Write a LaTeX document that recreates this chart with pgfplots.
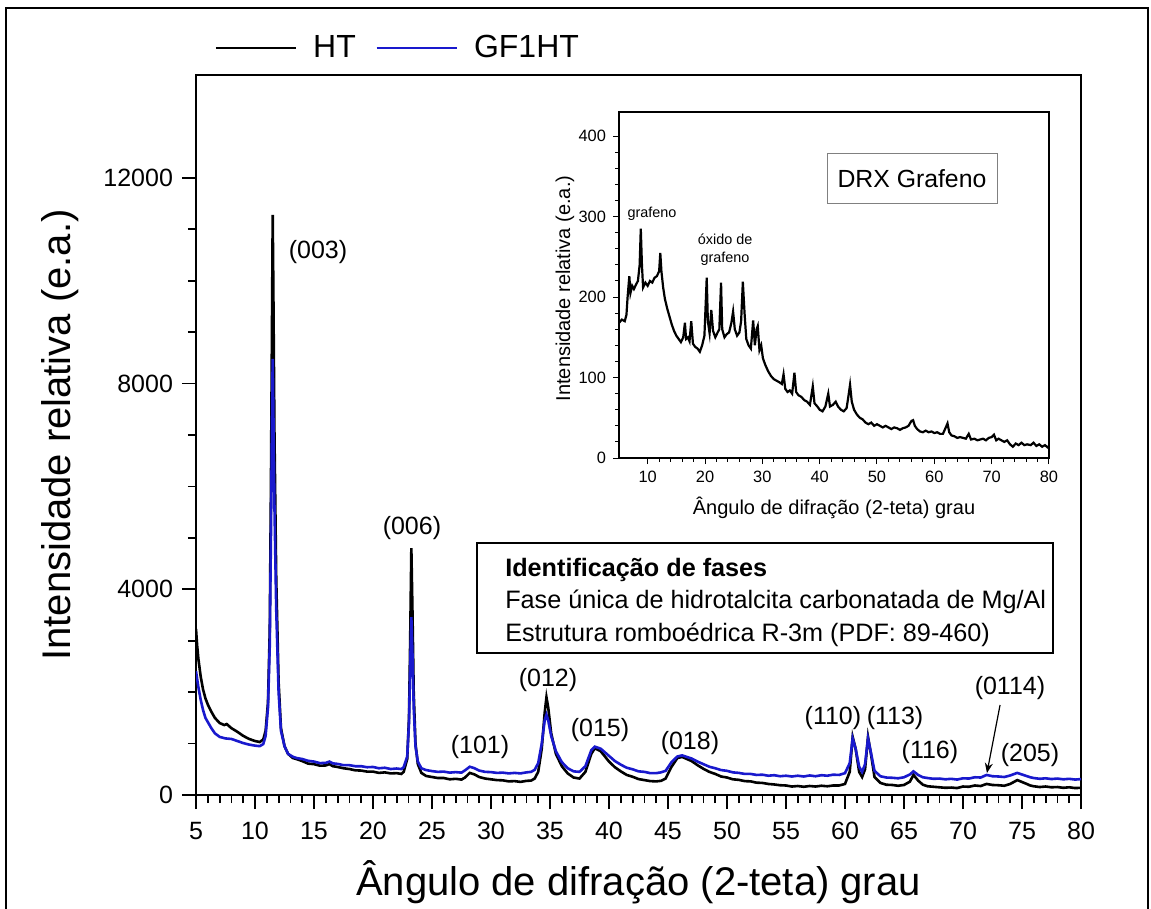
\documentclass[border=0pt]{standalone}
\usepackage{pgfplots}
\pgfplotsset{compat=1.18}
\usepackage{fontspec}
\setmainfont{Liberation Sans}
\usetikzlibrary{arrows.meta}
\definecolor{gfblue}{RGB}{25,25,205}

\pgfplotstableread{
x y
5.0 3230
5.1 2900
5.2 2650
5.4 2300
5.6 2050
5.8 1880
6.0 1760
6.3 1620
6.6 1500
7.0 1400
7.4 1360
7.6 1380
8.0 1300
8.5 1230
9.0 1150
9.5 1090
10.0 1050
10.4 1030
10.7 1080
10.9 1250
11.1 1800
11.25 3200
11.35 6000
11.45 9500
11.5 11280
11.55 10000
11.65 7000
11.8 4200
12.0 2200
12.2 1300
12.5 950
12.8 800
13.2 720
13.5 700
14.0 660
14.5 610
15.0 600
15.5 570
16.0 575
16.3 600
16.6 560
17.0 545
17.5 520
18.0 505
18.5 480
19.0 475
19.5 455
20.0 455
20.5 430
21.0 440
21.5 420
22.0 425
22.4 410
22.6 450
22.9 700
23.05 1500
23.15 3000
23.25 4800
23.35 3500
23.45 2000
23.6 1000
23.8 600
24.1 430
24.5 370
25.0 350
25.5 330
26.0 330
26.5 305
27.0 315
27.5 300
27.8 340
28.2 430
28.6 400
29.0 350
29.5 320
30.0 305
30.5 290
31.0 285
31.5 265
32.0 270
32.5 255
33.0 275
33.4 280
33.7 320
34.0 450
34.3 900
34.55 1600
34.7 1900
34.85 1700
35.1 1200
35.5 800
36.0 560
36.5 420
37.0 340
37.5 320
38.0 450
38.5 800
38.8 910
39.3 850
40.0 650
40.5 540
41.0 460
41.5 390
42.0 355
42.5 310
43.0 290
43.5 270
44.0 265
44.4 275
44.8 320
45.3 550
45.8 720
46.2 740
46.6 700
47.0 660
47.5 580
48.0 510
48.5 450
49.0 410
49.5 360
50.0 340
50.5 305
51.0 295
51.5 270
52.0 265
52.5 240
53.0 235
53.5 215
54.0 205
54.5 190
55.0 185
55.5 165
56.0 175
56.5 160
57.0 175
57.5 165
58.0 180
58.5 170
59.0 185
59.5 185
60.0 215
60.4 450
60.65 1130
60.9 900
61.2 450
61.45 350
61.7 500
61.95 1130
62.2 800
62.5 350
63.0 235
63.5 200
64.0 195
64.5 180
65.0 195
65.5 260
65.8 390
66.2 280
66.6 200
67.0 170
67.5 160
68.0 150
68.5 140
69.0 145
69.5 135
70.0 165
70.5 160
71.0 185
71.5 175
72.0 215
72.5 195
73.0 190
73.5 180
74.0 215
74.6 290
75.3 225
75.7 185
76.0 170
76.5 155
77.0 165
77.5 150
78.0 155
78.5 140
79.0 150
79.5 135
80.0 140
}\dataHT

\pgfplotstableread{
x y
5.0 2410
5.2 2100
5.4 1850
5.6 1650
5.8 1500
6.0 1420
6.3 1300
6.6 1200
7.0 1130
7.5 1100
8.0 1090
8.5 1050
9.0 1010
9.5 980
10.0 960
10.4 950
10.7 990
10.9 1150
11.1 1700
11.25 2900
11.35 5000
11.45 7500
11.5 8480
11.55 7600
11.65 5600
11.8 3600
12.0 2000
12.2 1250
12.5 950
12.8 800
13.2 745
13.5 720
14.0 700
14.5 665
15.0 650
15.5 620
16.0 625
16.3 650
16.6 615
17.0 605
17.5 580
18.0 580
18.5 560
19.0 560
19.5 540
20.0 545
20.5 520
21.0 530
21.5 505
22.0 515
22.4 505
22.6 540
22.9 750
23.05 1400
23.15 2500
23.25 3460
23.35 2700
23.45 1700
23.6 950
23.8 650
24.1 520
24.5 485
25.0 465
25.5 450
26.0 455
26.5 435
27.0 445
27.5 435
27.8 480
28.2 550
28.6 520
29.0 475
29.5 450
30.0 445
30.5 430
31.0 435
31.5 420
32.0 430
32.5 420
33.0 440
33.4 450
33.7 490
34.0 620
34.3 1000
34.55 1450
34.7 1560
34.85 1450
35.1 1150
35.5 850
36.0 640
36.5 520
37.0 460
37.5 450
38.0 560
38.5 870
38.8 940
39.3 900
40.0 760
40.5 660
41.0 590
41.5 530
42.0 500
42.5 460
43.0 450
43.5 425
44.0 425
44.4 440
44.8 470
45.3 640
45.8 750
46.2 770
46.6 740
47.0 710
47.5 650
48.0 600
48.5 550
49.0 520
49.5 485
50.0 470
50.5 440
51.0 430
51.5 410
52.0 410
52.5 390
53.0 395
53.5 375
54.0 385
54.5 365
55.0 375
55.5 360
56.0 375
56.5 360
57.0 380
57.5 365
58.0 385
58.5 375
59.0 395
59.5 390
60.0 425
60.4 620
60.65 1100
60.9 900
61.2 550
61.45 450
61.7 600
61.95 1100
62.2 820
62.5 470
63.0 365
63.5 340
64.0 335
64.5 325
65.0 345
65.5 400
65.8 460
66.2 390
66.6 345
67.0 330
67.5 315
68.0 320
68.5 305
69.0 315
69.5 300
70.0 325
70.5 320
71.0 345
71.5 340
72.0 390
72.5 365
73.0 360
73.5 350
74.0 380
74.6 430
75.3 375
75.7 345
76.0 330
76.5 315
77.0 325
77.5 310
78.0 320
78.5 305
79.0 315
79.5 300
80.0 310
}\dataGF

\pgfplotstableread{
x y
5.0 168
5.5 172
6.0 170
6.3 178
6.5 200
6.8 226
7.0 205
7.3 214
7.6 210
8.0 216
8.3 220
8.6 240
8.8 285
9.0 240
9.2 212
9.6 218
10.0 214
10.4 220
10.8 218
11.2 224
11.6 226
12.0 232
12.2 255
12.4 232
12.7 212
13.0 198
13.4 186
13.8 176
14.2 166
14.6 158
15.0 152
15.4 148
15.8 144
16.2 150
16.5 168
16.7 148
17.0 150
17.3 145
17.6 170
17.9 142
18.3 138
18.7 136
19.1 132
19.5 140
19.9 152
20.3 224
20.5 170
20.8 155
21.1 184
21.4 158
21.8 150
22.2 156
22.5 160
22.8 218
23.0 160
23.4 150
23.8 154
24.2 156
24.6 168
24.9 182
25.2 160
25.6 152
26.0 156
26.3 170
26.6 219
26.9 180
27.2 148
27.6 140
28.0 136
28.4 171
28.7 140
29.0 160
29.2 164
29.5 134
29.8 140
30.1 124
30.5 116
31.0 108
31.5 102
32.0 98
32.5 96
33.0 94
33.4 92
33.7 104
34.0 86
34.4 82
34.8 84
35.2 80
35.6 106
35.9 82
36.3 78
36.8 76
37.3 72
37.8 70
38.3 66
38.8 89
39.1 68
39.6 64
40.0 60
40.5 58
41.0 64
41.5 80
41.8 64
42.3 66
42.8 70
43.2 64
43.7 60
44.2 58
44.7 62
45.0 76
45.3 91
45.6 70
46.0 60
46.5 54
47.0 50
47.5 48
48.0 44
48.5 42
49.0 44
49.5 40
50.0 42
50.5 40
51.0 38
51.5 40
52.0 38
52.5 36
53.0 38
53.5 37
54.0 35
54.5 37
55.0 38
55.5 40
56.0 46
56.3 47
56.6 40
57.0 36
57.5 33
58.0 32
58.5 34
59.0 32
59.5 33
60.0 31
60.5 32
61.0 30
61.5 30
62.0 38
62.3 43
62.6 32
63.0 28
63.5 27
64.0 25
64.5 26
65.0 25
65.5 24
66.0 30
66.4 23
67.0 24
67.5 22
68.0 23
68.5 24
69.0 22
69.5 25
70.0 26
70.4 29
70.8 22
71.2 24
71.7 22
72.2 20
72.7 22
73.2 17
73.7 14
74.2 18
74.7 16
75.2 19
75.7 16
76.2 17
76.8 16
77.3 19
77.8 15
78.3 17
78.8 14
79.3 16
79.8 13
80.0 15
}\dataGR

\begin{document}
\begin{tikzpicture}
\path[use as bounding box] (0,0) rectangle (575.5pt,-454.5pt);
\begin{axis}[
  at={(98pt,-397.5pt)}, anchor=south west,
  width=442.5pt, height=360pt, scale only axis,
  xmin=5, xmax=80, ymin=0, ymax=14000,
  xtick={5,10,...,80}, ytick={0,4000,8000,12000},
  scaled y ticks=false,
  minor x tick num=4, minor y tick num=3,
  tick align=outside, xtick pos=bottom, ytick pos=left,
  major tick length=7pt, minor tick length=4pt,
  axis line style={line width=1pt},
  every tick/.style={black, line width=0.9pt},
  /pgf/number format/1000 sep={},
  /pgf/number format/assume math mode=true,
  tick label style={font=\fontsize{12.5}{14}\selectfont},
  xticklabel shift=3pt,
  yticklabel shift=1pt,
  xlabel={Ângulo de difração (2-teta) grau},
  ylabel={Intensidade relativa (e.a.)},
  label style={font=\fontsize{20}{24}\selectfont},
  xlabel style={at={(axis description cs:0.5,-0.121)}, anchor=center},
  ylabel style={at={(axis description cs:-0.1537,0.5)}, anchor=center},
  legend columns=2,
  legend style={draw=none, fill=none, at={(axis description cs:0.021,1.0375)}, anchor=west,
    font=\fontsize{16}{18}\selectfont, inner sep=0pt,
    /tikz/every even column/.append style={column sep=8pt}},
  legend image code/.code={\draw[#1, line width=0.9pt] (0pt,0pt) -- (40pt,0pt); \path (46pt,0pt);},
]
\addplot[black, line width=1.3pt] table[x=x,y=y] {\dataHT};
\addlegendentry{HT}
\addplot[gfblue, line width=1.3pt] table[x=x,y=y] {\dataGF};
\addlegendentry{GF1HT}

\begin{scope}[every node/.style={font=\fontsize{12.5}{15}\selectfont, inner sep=0pt}]
\node at (axis cs:15.34,10560) {(003)};
\node at (axis cs:23.3,5190) {(006)};
\node at (axis cs:29.07,933) {(101)};
\node at (axis cs:34.83,2236) {(012)};
\node at (axis cs:39.24,1264) {(015)};
\node at (axis cs:46.86,1011) {(018)};
\node at (axis cs:58.98,1497) {(110)};
\node at (axis cs:64.24,1497) {(113)};
\node at (axis cs:67.2,836) {(116)};
\node at (axis cs:73.98,2080) {(0114)};
\node at (axis cs:75.68,778) {(205)};
\end{scope}
\draw[-{Stealth[length=5pt,width=4pt]}, line width=0.6pt] (axis cs:73.14,1750) -- (axis cs:72.03,428);

\draw[line width=0.8pt] (axis cs:28.81,4900) rectangle (axis cs:77.63,2761);
\node[anchor=base west, inner sep=0pt, font=\bfseries\fontsize{12.6}{15}\selectfont] at (axis cs:31.18,4258) {Identificação de fases};
\node[anchor=base west, inner sep=0pt, font=\fontsize{12.6}{15}\selectfont] at (axis cs:31.18,3636) {Fase única de hidrotalcita carbonatada de Mg/Al};
\node[anchor=base west, inner sep=0pt, font=\fontsize{12.6}{15}\selectfont] at (axis cs:31.18,2994) {Estrutura romboédrica R-3m (PDF: 89-460)};
\end{axis}

\begin{axis}[
  at={(309.5pt,-229pt)}, anchor=south west,
  width=215pt, height=173pt, scale only axis,
  xmin=5, xmax=80, ymin=0, ymax=430,
  xtick={10,20,...,80}, ytick={0,100,...,400},
  minor x tick num=4, minor y tick num=4,
  tick align=outside, xtick pos=bottom, ytick pos=left,
  major tick length=3pt, minor tick length=1.8pt,
  axis line style={line width=0.6pt},
  every tick/.style={black, line width=0.5pt},
  axis background/.style={fill=white},
  /pgf/number format/assume math mode=true,
  tick label style={font=\fontsize{8.2}{10}\selectfont},
  xlabel={Ângulo de difração (2-teta) grau},
  ylabel={Intensidade relativa (e.a.)},
  label style={font=\fontsize{10}{12}\selectfont},
  xlabel style={at={(axis description cs:0.5,-0.1445)}, anchor=center},
  ylabel style={at={(axis description cs:-0.1256,0.49)}, anchor=center},
]
\addplot[black, line width=1.1pt] table[x=x,y=y] {\dataGR};
\draw[gray, line width=0.5pt] (axis cs:41.28,378.9) rectangle (axis cs:71.1,316.8);
\node[font=\fontsize{12.4}{15}\selectfont, inner sep=0pt] at (axis cs:56.1,347.8) {DRX Grafeno};
\node[font=\fontsize{7.2}{8.6}\selectfont, inner sep=0pt] at (axis cs:10.76,303) {grafeno};
\node[font=\fontsize{7.2}{8.6}\selectfont, inner sep=0pt, align=center] at (axis cs:23.5,259) {óxido de\\grafeno};
\end{axis}

\draw[line width=1pt] (3pt,-454.5pt) -- (3pt,-4pt) -- (574pt,-4pt) -- (574pt,-454.5pt);
\end{tikzpicture}
\end{document}
